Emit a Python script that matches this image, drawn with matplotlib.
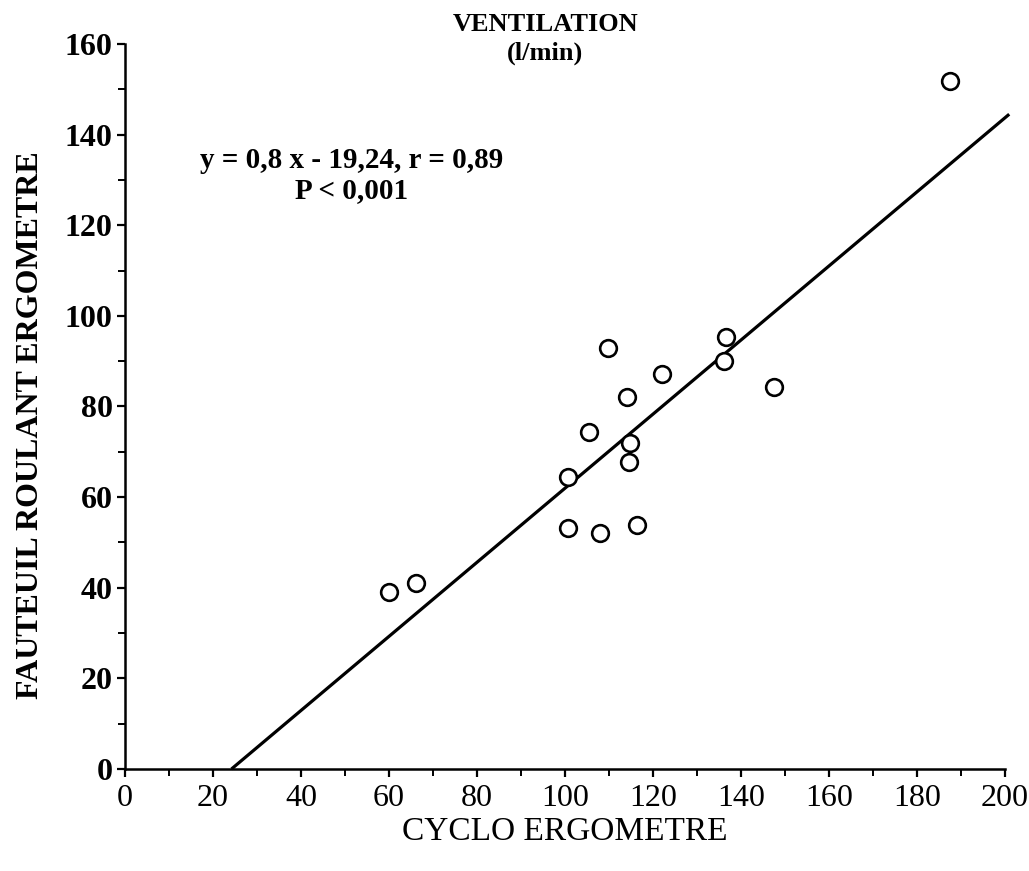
import matplotlib.pyplot as plt
from matplotlib.ticker import MultipleLocator

# valeurs (l/min)
cyclo = [60.0, 66.1, 100.7, 100.7, 105.5, 107.9, 109.9, 114.1, 114.7, 114.6,
         116.4, 122.0, 136.1, 136.7, 147.5, 187.5]
fauteuil = [39.1, 41.0, 64.5, 53.1, 74.3, 52.0, 93.0, 82.0, 71.9, 67.8,
            53.8, 87.2, 90.1, 95.4, 84.4, 151.9]

# droite de regression (extremites)
fit_x = [24.2, 201.0]
fit_y = [0.0, 144.5]

serif = ['Liberation Serif', 'DejaVu Serif']

fig = plt.figure(figsize=(10.29, 8.71), dpi=100)
ax = fig.add_axes([0.1215, 0.1171, 0.855, 0.8324])

ax.plot(fit_x, fit_y, color='black', lw=2.3, solid_capstyle='butt', clip_on=False)
ax.plot(cyclo, fauteuil, 'o', ms=12, mfc='white', mec='black', mew=1.9, clip_on=False)

ax.set_xlim(0, 200)
ax.set_ylim(0, 160)
ax.xaxis.set_major_locator(MultipleLocator(20))
ax.xaxis.set_minor_locator(MultipleLocator(10))
ax.yaxis.set_major_locator(MultipleLocator(20))
ax.yaxis.set_minor_locator(MultipleLocator(10))

for s in ['top', 'right']:
    ax.spines[s].set_visible(False)
for s in ['left', 'bottom']:
    ax.spines[s].set_linewidth(1.8)

ax.tick_params(which='major', direction='out', length=6, width=1.6)
ax.tick_params(which='minor', direction='out', length=5, width=1.4)
ax.tick_params(axis='x', pad=5)
ax.tick_params(axis='y', pad=3)

for lab in ax.get_xticklabels():
    lab.set_family(serif)
    lab.set_fontsize(23)
for lab in ax.get_yticklabels():
    lab.set_family(serif)
    lab.set_fontsize(23)
    lab.set_fontweight('bold')

ax.set_xlabel('CYCLO ERGOMETRE', family=serif, fontsize=24, labelpad=2)
ax.set_ylabel('FAUTEUIL ROULANT ERGOMETRE', family=serif, fontsize=23,
              fontweight='bold', labelpad=14)
ax.yaxis.label.set_y(0.474)

fig.text(0.53, 0.972, 'VENTILATION', family=serif, fontsize=19,
         fontweight='bold', ha='center', va='center')
fig.text(0.53, 0.939, '(l/min)', family=serif, fontsize=19,
         fontweight='bold', ha='center', va='center')

ax.text(0.257, 0.818, 'y = 0,8 x - 19,24, r = 0,89\nP < 0,001', transform=ax.transAxes,
        family=serif, fontsize=21, fontweight='bold', ha='center', va='center',
        linespacing=1.15)

fig.savefig('out.png', dpi=100)
